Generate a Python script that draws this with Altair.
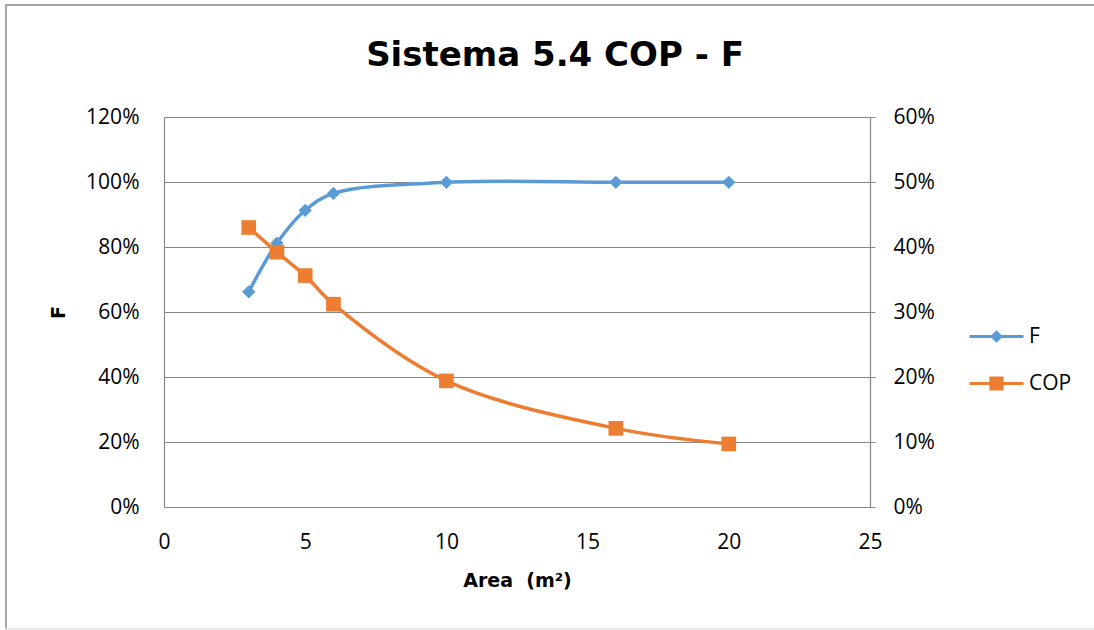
import altair as alt
import pandas as pd

# Heat-exchanger area (m²) and the two performance indicators
area = [3, 4, 5, 6, 10, 16, 20]
f_values = [0.662, 0.812, 0.913, 0.965, 0.999, 0.999, 0.999]
cop_values = [0.430, 0.392, 0.356, 0.312, 0.194, 0.121, 0.097]

series_names = ["F", "COP"]
series_colors = ["#5B9BD5", "#ED7D31"]

# Legend symbols: a line segment with the series marker on top of it
legend_paths = [
    "M-1.1,-0.065H1.1V0.065H-1.1Z M0,-0.26L0.26,0L0,0.26L-0.26,0Z",
    "M-1.1,-0.065H1.1V0.065H-1.1Z M-0.29,-0.29H0.29V0.29H-0.29Z",
]

title_text = "Sistema 5.4 COP - F"
x_title = "Area\u00a0\u00a0(m²)"
y_title = "F"

FONT = "Open Sans"
TITLE_FONT = "DejaVu Sans"
GRID = "#868686"

df_f = pd.DataFrame({"Area": area, "F": f_values})
df_cop = pd.DataFrame({"Area": area, "COP": cop_values})
df_legend = pd.DataFrame({"series": series_names})
one_row = pd.DataFrame({"k": [0]})

x_enc = alt.X(
    "Area:Q",
    scale=alt.Scale(domain=[0, 25], nice=False),
    axis=alt.Axis(
        values=[0, 5, 10, 15, 20, 25],
        grid=False,
        ticks=False,
        labelFlush=False,
        labelPadding=24,
        title=x_title,
        titleFontWeight="bold",
        titleFontSize=19,
        titleFont=TITLE_FONT,
        titleX=353,
        titleY=73,
        titleBaseline="middle",
    ),
)

y_left = alt.Y(
    "F:Q",
    scale=alt.Scale(domain=[0, 1.2], nice=False),
    axis=alt.Axis(
        values=[0, 0.2, 0.4, 0.6, 0.8, 1.0, 1.2],
        format=".0%",
        grid=True,
        ticks=False,
        labelFlush=False,
        labelPadding=25,
        title=y_title,
        titleFontWeight="bold",
        titleFontSize=19,
        titleFont=TITLE_FONT,
        titleX=-106,
        titleY=195,
        titleBaseline="middle",
        orient="left",
    ),
)

y_right = alt.Y(
    "COP:Q",
    scale=alt.Scale(domain=[0, 0.6], nice=False),
    axis=alt.Axis(
        values=[0, 0.1, 0.2, 0.3, 0.4, 0.5, 0.6],
        format=".0%",
        grid=False,
        ticks=True,
        tickSize=5,
        labelFlush=False,
        labelPadding=18,
        title=None,
        orient="right",
    ),
)

f_line = alt.Chart(df_f).mark_line(
    color=series_colors[0], strokeWidth=3.5, interpolate="catmull-rom"
).encode(x=x_enc, y=y_left)
f_pts = alt.Chart(df_f).mark_point(
    shape="diamond", filled=True, color=series_colors[0], size=175, opacity=1
).encode(x=x_enc, y=y_left)

legend_def = alt.Legend(
    title=None,
    orient="none",
    legendX=808,
    legendY=195,
    padding=0,
    symbolSize=2401,
    symbolStrokeWidth=0,
    labelFont=FONT,
    labelFontSize=21,
    labelColor="#000000",
    labelOffset=8,
    rowPadding=12,
)
legend_layer = alt.Chart(df_legend).transform_filter("false").mark_point(
    filled=True, opacity=1
).encode(
    color=alt.Color(
        "series:N",
        scale=alt.Scale(domain=series_names, range=series_colors),
        legend=legend_def,
    ),
    shape=alt.Shape(
        "series:N",
        scale=alt.Scale(domain=series_names, range=legend_paths),
        legend=legend_def,
    ),
)

cop_line = alt.Chart(df_cop).mark_line(
    color=series_colors[1], strokeWidth=3.5, interpolate="catmull-rom"
).encode(x=x_enc, y=y_right)
cop_pts = alt.Chart(df_cop).mark_point(
    shape="square", filled=True, color=series_colors[1], size=215, opacity=1
).encode(x=x_enc, y=y_right)

left_group = alt.layer(f_line, f_pts, legend_layer)
right_group = alt.layer(cop_line, cop_pts)

# Chart title and the thin outer frame of the chart area
title_mark = alt.Chart(one_row).mark_text(
    text=title_text, font=TITLE_FONT, fontSize=34, fontWeight="bold",
    align="center", baseline="alphabetic", color="#000000",
).encode(x=alt.value(391), y=alt.value(-51))

frame_top = alt.Chart(one_row).mark_rule(color="#a6a6a6", strokeWidth=2).encode(
    x=alt.value(-159), x2=alt.value(940), y=alt.value(-112)
)
frame_left = alt.Chart(one_row).mark_rule(color="#a6a6a6", strokeWidth=2).encode(
    x=alt.value(-158), y=alt.value(-112), y2=alt.value(513)
)
frame_bottom = alt.Chart(one_row).mark_rule(color="#e3e3e3", strokeWidth=1.5).encode(
    x=alt.value(-159), x2=alt.value(940), y=alt.value(512)
)

chart = alt.layer(
    left_group, right_group, title_mark, frame_top, frame_left, frame_bottom
).resolve_scale(
    y="independent"
).properties(
    width=706,
    height=390,
    autosize="none",
    padding={"left": 164, "top": 117, "right": 224, "bottom": 123},
    background="white",
).configure_view(
    stroke=None
).configure_axis(
    labelFont=FONT,
    labelFontSize=21,
    labelColor="#000000",
    domainColor=GRID,
    domainWidth=1.2,
    tickColor=GRID,
    gridColor=GRID,
    gridWidth=1.2,
    titleColor="#000000",
)

chart.save("out.html", embed_options={"renderer": "svg", "actions": False})
